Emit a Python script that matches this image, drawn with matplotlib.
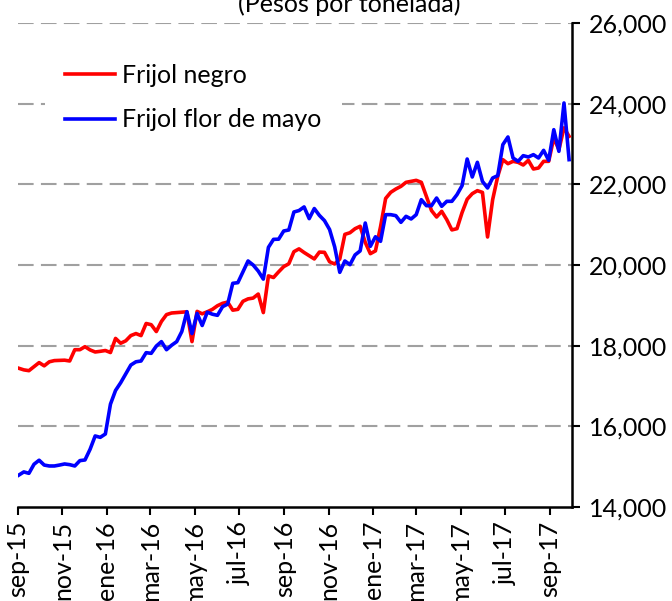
import pandas as pd
import matplotlib
matplotlib.use("Agg")
import matplotlib.pyplot as plt

plt.rcParams['font.family'] = ['Lato', 'DejaVu Sans']

# semanas desde sep-2015
fechas = pd.date_range('2015-09-02', periods=109, freq='7D')

frijol_negro = [
    17440, 17400, 17380, 17480, 17580, 17500, 17600, 17630, 17635, 17640,
    17620, 17900, 17900, 17975, 17895, 17843, 17860, 17880, 17830, 18180,
    18060, 18120, 18250, 18300, 18250, 18550, 18520, 18350, 18600, 18770,
    18810, 18820, 18830, 18840, 18100, 18850, 18790, 18840, 18900, 18990,
    19050, 19080, 18880, 18900, 19100, 19160, 19180, 19280, 18820, 19730,
    19690, 19830, 19960, 20030, 20330, 20400, 20310, 20230, 20150, 20320,
    20314, 20080, 20025, 20149, 20760, 20800, 20900, 20960, 20560, 20281,
    20350, 20950, 21650, 21802, 21884, 21950, 22050, 22074, 22099, 22050,
    21700, 21350, 21190, 21331, 21124, 20870, 20901, 21300, 21630, 21769,
    21843, 21800, 20694, 21620, 22198, 22612, 22512, 22570, 22545, 22479,
    22595, 22380, 22405, 22570, 22570, 23149, 22860, 23400, 23190,
]

frijol_flor_de_mayo = [
    14790, 14870, 14835, 15060, 15160, 15040, 15017, 15017, 15040, 15067,
    15050, 15017, 15150, 15166, 15430, 15761, 15727, 15810, 16550, 16890,
    17080, 17300, 17520, 17600, 17620, 17826, 17810, 17990, 18100, 17900,
    18010, 18100, 18350, 18843, 18300, 18800, 18500, 18830, 18780, 18752,
    18967, 19030, 19546, 19562, 19830, 20100, 20000, 19850, 19650, 20438,
    20636, 20640, 20843, 20868, 21314, 21350, 21440, 21150, 21400, 21230,
    21100, 20880, 20450, 19818, 20100, 20008, 20250, 20350, 21041, 20463,
    20700, 20587, 21248, 21248, 21223, 21058, 21207, 21141, 21248, 21620,
    21471, 21471, 21661, 21455, 21579, 21579, 21744, 21967, 22628, 22182,
    22546, 22074, 21909, 22157, 22215, 22984, 23174, 22653, 22570, 22711,
    22678, 22736, 22653, 22843, 22595, 23355, 22818, 24017, 22612,
]

meses = {1: 'ene', 3: 'mar', 5: 'may', 7: 'jul', 9: 'sep', 11: 'nov'}
ticks_x = pd.date_range('2015-09-01', '2017-09-01', freq='2MS')
etiquetas_x = [f"{meses[d.month]}-{d.strftime('%y')}" for d in ticks_x]
ticks_y = list(range(14000, 26001, 2000))

fs = 18

fig = plt.figure(figsize=(6.72, 6.01), dpi=100)
ax = fig.add_axes([18 / 672, 1 - 507 / 601, (572 - 18) / 672, (507 - 23) / 601])

for y in ticks_y[1:]:
    ax.axhline(y, color='#a0a0a0', lw=1.5, linestyle=(0, (7.5, 3.5)), zorder=1)

ax.plot(fechas, frijol_negro, color='#ff0000', lw=2.6, label='Frijol negro', zorder=3)
ax.plot(fechas, frijol_flor_de_mayo, color='#0000ff', lw=2.6, label='Frijol flor de mayo', zorder=4)

ax.set_xlim(pd.Timestamp('2015-09-01'), pd.Timestamp('2017-10-01'))
ax.set_ylim(14000, 26000)

ax.set_xticks(ticks_x)
ax.set_xticklabels(etiquetas_x, rotation=90, fontsize=fs)
ax.set_yticks(ticks_y)
ax.set_yticklabels([f"{v:,}" for v in ticks_y], fontsize=fs)

ax.yaxis.tick_right()
ax.tick_params(axis='y', direction='out', length=6, width=1.5, pad=6)
ax.tick_params(axis='x', direction='out', length=6, width=1.5, pad=4)

for lado in ['left', 'top']:
    ax.spines[lado].set_visible(False)
for lado in ['right', 'bottom']:
    ax.spines[lado].set_linewidth(1.8)

leg = ax.legend(loc='upper left', bbox_to_anchor=(45 / 672, 1 - 44 / 601),
                bbox_transform=fig.transFigure, fontsize=fs, frameon=True,
                fancybox=False, edgecolor='none', facecolor='white', framealpha=1,
                handlelength=2.0, handletextpad=0.3, labelspacing=0.85,
                borderpad=0.8, borderaxespad=0)
leg.set_zorder(5)

fig.text(349 / 672, 1 - 12 / 601, '(Pesos por tonelada)', ha='center',
         va='baseline', fontsize=fs)

fig.savefig('out.png', dpi=100)
